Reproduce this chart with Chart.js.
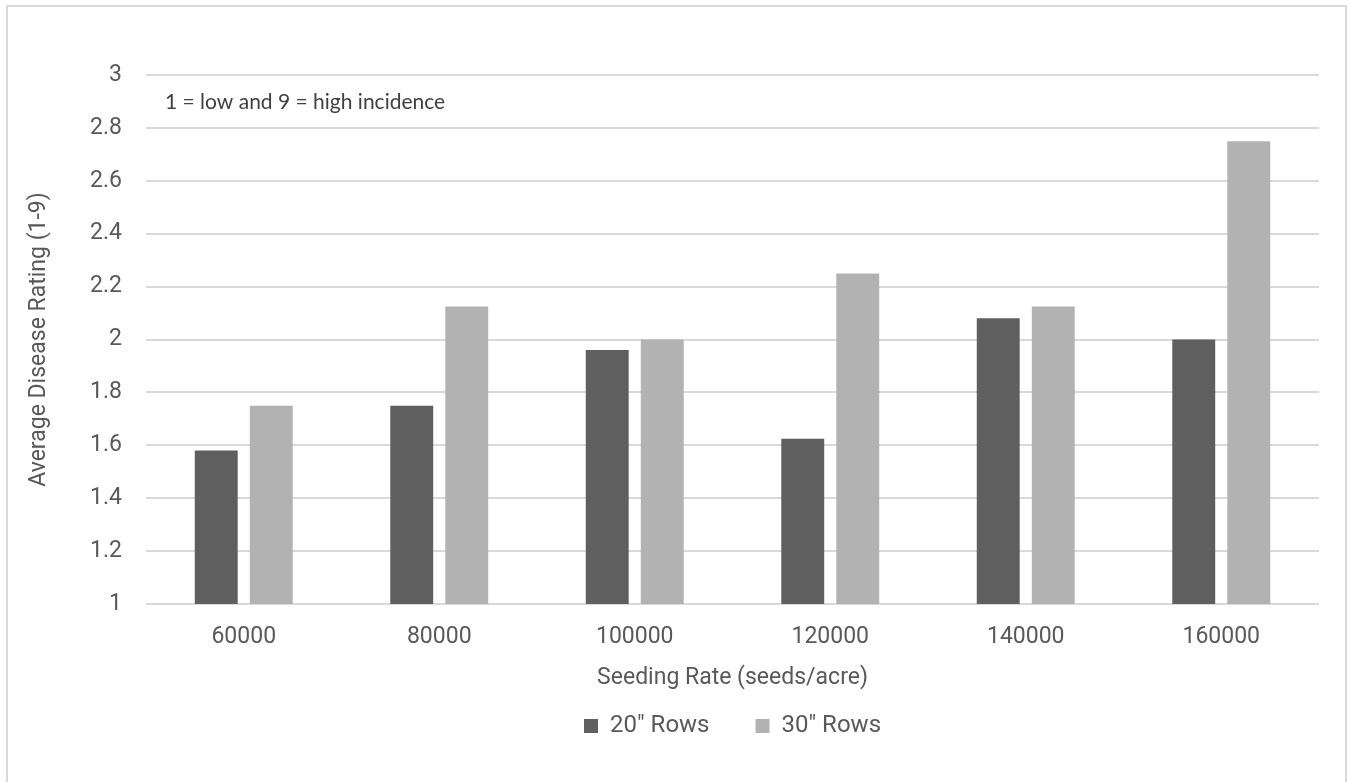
<!DOCTYPE html>
<html>
<head>
<meta charset="utf-8">
<script src="https://cdn.jsdelivr.net/npm/chart.js@4"></script>
<style>
  html, body { margin: 0; padding: 0; background: #fff; }
  #wrap { position: relative; width: 1349px; height: 782px; }
  #frame { position: absolute; left: 6px; top: 5px; width: 1341px; height: 800px;
           border: 2px solid #d9d9d9; box-sizing: border-box; }
  canvas { position: absolute; left: 0; top: 0; }
</style>
</head>
<body>
<div id="wrap">
  <div id="frame"></div>
  <canvas id="chart" width="1349" height="782"></canvas>
</div>
<script>
const seedingRates = ['60000', '80000', '100000', '120000', '140000', '160000'];
const rows20 = [1.58, 1.75, 1.96, 1.625, 2.08, 2.0];
const rows30 = [1.75, 2.125, 2.0, 2.25, 2.125, 2.75];
const yTicks = [1, 1.2, 1.4, 1.6, 1.8, 2, 2.2, 2.4, 2.6, 2.8, 3];
const note = '1 = low and 9 = high incidence';

const textColor = '#595959';
const gridColor = '#d9d9d9';
const font = 'Roboto';

// the "1 = low ..." note sits inside the plot, top left
const notePlugin = {
  id: 'note',
  afterDraw(chart) {
    const { ctx, chartArea } = chart;
    ctx.save();
    ctx.font = '21px Lato';
    ctx.fillStyle = '#404040';
    ctx.textBaseline = 'middle';
    ctx.fillText(note, chartArea.left + 19, chartArea.top + 27);
    ctx.restore();
  }
};

const ctx = document.getElementById('chart').getContext('2d');
new Chart(ctx, {
  type: 'bar',
  data: {
    labels: seedingRates,
    datasets: [
      { label: '20" Rows', data: rows20, backgroundColor: '#5f5f5f' },
      { label: '30" Rows', data: rows30, backgroundColor: '#b2b2b2' },
    ],
  },
  options: {
    responsive: false,
    animation: false,
    categoryPercentage: 0.563,
    barPercentage: 0.78,
    layout: { padding: { left: 25, right: 30, top: 75, bottom: 34 } },
    plugins: {
      legend: {
        position: 'bottom',
        fullSize: false,
        labels: {
          color: textColor,
          font: { family: font, size: 24 },
          boxWidth: 14,
          boxHeight: 14,
          padding: 46,
        },
      },
      tooltip: { enabled: false },
    },
    scales: {
      y: {
        min: 1,
        max: 3,
        afterBuildTicks: axis => { axis.ticks = yTicks.map(v => ({ value: v })); },
        afterFit: axis => { axis.width = 121; },
        ticks: {
          color: textColor,
          font: { family: font, size: 23 },
          padding: 24,
          callback: v => String(+v.toFixed(1)),
        },
        grid: { color: gridColor, lineWidth: 2, drawTicks: false },
        border: { display: false },
        title: {
          display: true,
          text: 'Average Disease Rating (1-9)',
          color: textColor,
          font: { family: font, size: 23 },
          padding: 0,
        },
      },
      x: {
        afterFit: axis => { axis.height = 64; },
        ticks: {
          color: textColor,
          font: { family: font, size: 23 },
          padding: 11,
        },
        grid: { display: false },
        border: { display: false },
        title: {
          display: true,
          text: 'Seeding Rate (seeds/acre)',
          color: textColor,
          font: { family: font, size: 23 },
          padding: { top: 0, bottom: -24 },
        },
      },
    },
  },
  plugins: [notePlugin],
});
</script>
</body>
</html>
